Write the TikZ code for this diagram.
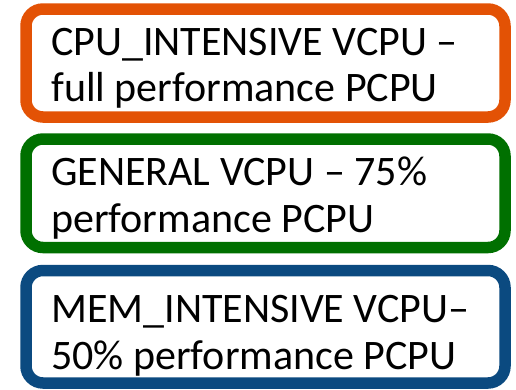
\documentclass[tikz,border=0pt]{standalone}
\usepackage{fontspec}
\setmainfont{Carlito}
\definecolor{cpuorange}{HTML}{E35205}
\definecolor{gengreen}{HTML}{007000}
\definecolor{memblue}{HTML}{0B4A80}
\begin{document}
\begin{tikzpicture}[x=1pt,y=-1pt,
  tierbox/.style={line width=11.5pt, rounded corners=17pt, fill=white},
  tiertext/.style={anchor=base west, inner sep=0pt, font=\fontsize{42}{47}\selectfont}]
  \useasboundingbox (0,0) rectangle (516,389);
  % three rounded frames, one per VCPU class
  \draw[tierbox, draw=cpuorange] (26,9) rectangle (505,117);
  \draw[tierbox, draw=gengreen] (26,139) rectangle (505,247.5);
  \draw[tierbox, draw=memblue] (26,270.5) rectangle (505,383);
  % labels
  \node[tiertext] (cpu1) at (51,55) {CPU\_INTENSIVE VCPU –};
  \node[tiertext] (cpu2) at (51,101) {full performance PCPU};
  \node[tiertext] (gen1) at (51,185) {GENERAL VCPU – 75\%};
  \node[tiertext] (gen2) at (51,232) {performance PCPU};
  \node[tiertext] (mem1) at (51,322) {MEM\_INTENSIVE VCPU–};
  \node[tiertext] (mem2) at (51,369) {50\% performance PCPU};
\end{tikzpicture}
\end{document}
